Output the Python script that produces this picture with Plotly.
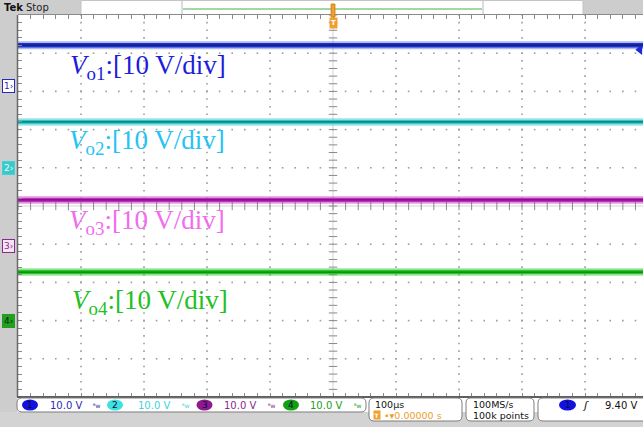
import plotly.graph_objects as go

W, H = 643, 427

# ---- acquisition settings / readings ----
time_span_us = [-500, 492]          # 100 us/div, trigger at t = 0
channels = ["1", "2", "3", "4"]
subscripts = ["o1", "o2", "o3", "o4"]
volts_per_div = [10.0, 10.0, 10.0, 10.0]
offset_div = [3.15, 1.0, -1.04, -3.0]   # ground-marker positions
dc_level_v = [10.6, 12.0, 12.0, 12.7]   # output voltages
trigger_level_v = 9.40
readouts = ["10.0 V", "10.0 V", "10.0 V", "10.0 V"]

trace_col = ["#1c34cc", "#2fc9c9", "#c52bc0", "#27c827"]
core_col = ["#0c1a78", "#0d6a6e", "#6a0f6e", "#0d7a14"]
label_col = ["#1c1cdc", "#25c4f2", "#f26cee", "#22c022"]
readout_col = ["#2a2ab4", "#3dd4dc", "#8a2a8c", "#249c24"]
oval_col = ["#1212e0", "#3ee0e0", "#8e1a90", "#12a012"]


def px(x):
    return x / W


def py(y):
    return (H - y) / H


def rrect(x0, y0, x1, y1, r):
    def p(x, y):
        return f"{px(x):.5f},{py(y):.5f}"
    return (f"M {p(x0 + r, y0)} L {p(x1 - r, y0)} Q {p(x1, y0)} {p(x1, y0 + r)} "
            f"L {p(x1, y1 - r)} Q {p(x1, y1)} {p(x1 - r, y1)} L {p(x0 + r, y1)} "
            f"Q {p(x0, y1)} {p(x0, y1 - r)} L {p(x0, y0 + r)} Q {p(x0, y0)} {p(x0 + r, y0)} Z")


fig = go.Figure()

# ---- graticule dots ----
gx, gy = [], []
for row in range(-4, 5):
    if row == 0:
        continue
    for k in range(-25, 25):
        gx.append(k * 20)
        gy.append(row)
for col in range(-4, 5):
    if col == 0:
        continue
    for k in range(-25, 26):
        gx.append(col * 100)
        gy.append(k * 0.2)
fig.add_trace(go.Scatter(x=gx, y=gy, mode="markers",
                         marker=dict(symbol="square", size=1.6, color="#9c9c9c"),
                         hoverinfo="skip"))

# centre cross with minor ticks
fig.add_trace(go.Scatter(x=[0, 0], y=[-5, 5], mode="lines",
                         line=dict(color="#d4d4d4", width=1), hoverinfo="skip"))
fig.add_trace(go.Scatter(x=[-500, 500], y=[0, 0], mode="lines",
                         line=dict(color="#d4d4d4", width=1), hoverinfo="skip"))
fig.add_trace(go.Scatter(x=[0] * 51, y=[k * 0.2 for k in range(-25, 26)], mode="markers",
                         marker=dict(symbol="line-ew", size=6, line=dict(color="#8a8a8a", width=1)),
                         hoverinfo="skip"))
fig.add_trace(go.Scatter(x=[k * 20 for k in range(-25, 25)], y=[0] * 50, mode="markers",
                         marker=dict(symbol="line-ns", size=6, line=dict(color="#8a8a8a", width=1)),
                         hoverinfo="skip"))

# ---- channel traces ----
for i in range(4):
    lvl = offset_div[i] + dc_level_v[i] / volts_per_div[i]
    ys = [lvl, lvl]
    fig.add_trace(go.Scatter(x=time_span_us, y=ys, mode="lines", opacity=0.35,
                             line=dict(color=trace_col[i], width=8), hoverinfo="skip"))
    fig.add_trace(go.Scatter(x=time_span_us, y=ys, mode="lines",
                             line=dict(color=trace_col[i], width=4.5), hoverinfo="skip"))
    fig.add_trace(go.Scatter(x=time_span_us, y=ys, mode="lines",
                             line=dict(color=core_col[i], width=1.2), hoverinfo="skip"))

# trigger level marker (channel 1)
trig_div = offset_div[0] + trigger_level_v / volts_per_div[0]
fig.add_trace(go.Scatter(x=[487], y=[trig_div], mode="markers", cliponaxis=False,
                         marker=dict(symbol="triangle-left", size=9, color="#1a2ad8"),
                         hoverinfo="skip"))

shapes = []
ann = []

# ---- frame pieces ----
shapes.append(dict(type="rect", xref="paper", yref="paper", x0=0, x1=px(17.5), y0=0, y1=1,
                   fillcolor="#cdcdcd", line=dict(width=0), layer="below"))
shapes.append(dict(type="rect", xref="paper", yref="paper", x0=0, x1=1, y0=0, y1=py(412),
                   fillcolor="#d3d3d3", line=dict(width=0), layer="below"))
shapes.append(dict(type="rect", xref="paper", yref="paper", x0=0, x1=px(81), y0=py(14.5), y1=1,
                   fillcolor="#cdcdcd", line=dict(width=0), layer="below"))
shapes.append(dict(type="rect", xref="paper", yref="paper", x0=px(583), x1=1, y0=py(14.5), y1=1,
                   fillcolor="#cdcdcd", line=dict(width=0), layer="below"))
shapes.append(dict(type="rect", xref="paper", yref="paper", x0=px(81), x1=px(583), y0=py(14.5), y1=py(0.5),
                   fillcolor="white", line=dict(color="#c4c4c4", width=1), layer="below"))
for xd in (182, 483):
    shapes.append(dict(type="line", xref="paper", yref="paper", x0=px(xd), x1=px(xd),
                       y0=py(14), y1=py(1), line=dict(color="#b8b8b8", width=1)))
shapes.append(dict(type="line", xref="paper", yref="paper", x0=px(183), x1=px(482),
                   y0=py(9), y1=py(9), line=dict(color="#47b447", width=1.2)))
# left border and bottom border of graticule
shapes.append(dict(type="line", xref="paper", yref="paper", x0=px(17.5), x1=px(17.5),
                   y0=py(397), y1=py(15), line=dict(color="#6a6a6a", width=1.5)))
shapes.append(dict(type="line", xref="paper", yref="paper", x0=px(17), x1=1,
                   y0=py(397), y1=py(397), line=dict(color="#5e5e5e", width=2)))

# trigger position marker at top
shapes.append(dict(type="rect", xref="x", yref="paper", x0=-3, x1=3, y0=py(17), y1=py(4),
                   fillcolor="#f0a030", line=dict(color="#d08010", width=1)))
ann.append(dict(x=0, xref="x", y=py(23.5), yref="paper", text="<b>T</b>", showarrow=False,
                font=dict(family="DejaVu Sans", size=7, color="white"),
                bgcolor="#f0a030", borderpad=1, xanchor="center", yanchor="middle"))

# ---- status boxes ----
shapes.append(dict(type="path", xref="paper", yref="paper", path=rrect(17, 398, 366, 412, 5),
                   fillcolor="white", line=dict(color="#7e7e7e", width=1)))
shapes.append(dict(type="path", xref="paper", yref="paper", path=rrect(369, 398, 462, 421, 5),
                   fillcolor="white", line=dict(color="#7e7e7e", width=1)))
shapes.append(dict(type="path", xref="paper", yref="paper", path=rrect(466, 398, 534, 421, 5),
                   fillcolor="white", line=dict(color="#7e7e7e", width=1)))
shapes.append(dict(type="path", xref="paper", yref="paper", path=rrect(538, 398, 660, 421, 5),
                   fillcolor="white", line=dict(color="#7e7e7e", width=1)))

sfont = "DejaVu Sans"
oval_x = [30, 115, 204.5, 291]
text_x = [48, 136, 222, 308]
bw_x = [97, 186, 272, 358]
for i in range(4):
    shapes.append(dict(type="circle", xref="paper", yref="paper",
                       x0=px(oval_x[i] - 8), x1=px(oval_x[i] + 8), y0=py(410.5), y1=py(399.5),
                       fillcolor=oval_col[i], line=dict(width=0)))
    ann.append(dict(x=px(oval_x[i]), y=py(405), xref="paper", yref="paper", text=channels[i],
                    showarrow=False, font=dict(family=sfont, size=9, color="#0a0a3a"),
                    xanchor="center", yanchor="middle"))
    ann.append(dict(x=px(text_x[i]), y=py(405), xref="paper", yref="paper", text=readouts[i],
                    showarrow=False, font=dict(family=sfont, size=10, color=readout_col[i]),
                    xanchor="left", yanchor="middle"))
    ann.append(dict(x=px(bw_x[i]), y=py(405), xref="paper", yref="paper", text="ᴮw",
                    showarrow=False, font=dict(family=sfont, size=6, color=readout_col[i]),
                    xanchor="center", yanchor="middle"))

ann.append(dict(x=px(373), y=py(404), xref="paper", yref="paper", text="100µs", showarrow=False,
                font=dict(family=sfont, size=9.5, color="#111111"), xanchor="left", yanchor="middle"))
ann.append(dict(x=px(376.5), y=py(415), xref="paper", yref="paper", text="<b>T</b>", showarrow=False,
                font=dict(family=sfont, size=6, color="white"), bgcolor="#eea22a", borderpad=0.5,
                xanchor="center", yanchor="middle"))
ann.append(dict(x=px(382), y=py(415), xref="paper", yref="paper", text="•▾0.00000 s", showarrow=False,
                font=dict(family=sfont, size=9.5, color="#e9a028"), xanchor="left", yanchor="middle"))
ann.append(dict(x=px(471), y=py(404), xref="paper", yref="paper", text="100MS/s", showarrow=False,
                font=dict(family=sfont, size=9.5, color="#111111"), xanchor="left", yanchor="middle"))
ann.append(dict(x=px(471), y=py(415), xref="paper", yref="paper", text="100k points", showarrow=False,
                font=dict(family=sfont, size=9.5, color="#111111"), xanchor="left", yanchor="middle"))
shapes.append(dict(type="circle", xref="paper", yref="paper", x0=px(559), x1=px(576),
                   y0=py(410.5), y1=py(399.5), fillcolor="#1212e0", line=dict(width=0)))
ann.append(dict(x=px(567.5), y=py(405), xref="paper", yref="paper", text="1", showarrow=False,
                font=dict(family=sfont, size=9, color="#0a0a3a"), xanchor="center", yanchor="middle"))
ann.append(dict(x=px(585), y=py(405), xref="paper", yref="paper", text="<i>ʃ</i>", showarrow=False,
                font=dict(family=sfont, size=11, color="#111111"), xanchor="center", yanchor="middle"))
ann.append(dict(x=px(639), y=py(405), xref="paper", yref="paper", text=f"{trigger_level_v:.2f} V",
                showarrow=False, font=dict(family=sfont, size=10, color="#111111"),
                xanchor="right", yanchor="middle"))

# ---- header ----
ann.append(dict(x=px(2), y=py(7.5), xref="paper", yref="paper", text="<b>Tek</b>", showarrow=False,
                font=dict(family=sfont, size=10, color="#111111"), xanchor="left", yanchor="middle"))
ann.append(dict(x=px(24), y=py(7.5), xref="paper", yref="paper", text="Stop", showarrow=False,
                font=dict(family=sfont, size=10, color="#222222"), xanchor="left", yanchor="middle"))

# ---- channel ground markers on the left ----
marker_bg = ["white", "#3cc8c8", "#f4e4f4", "#22a022"]
marker_fg = ["#2a2ab4", "#e8ffff", "#8a2a8c", "#0a2a0a"]
for i in range(4):
    ann.append(dict(x=px(8.5), xref="paper", y=offset_div[i], yref="y", text=channels[i] + "›",
                    showarrow=False, font=dict(family=sfont, size=9, color=marker_fg[i]),
                    bgcolor=marker_bg[i], bordercolor=readout_col[i], borderwidth=1, borderpad=1,
                    xanchor="center", yanchor="middle"))

# ---- channel labels ----
label_y = [67, 142, 222, 302]
label_x = [68, 67, 67, 70]
for i in range(4):
    ann.append(dict(x=px(label_x[i]), y=py(label_y[i]), xref="paper", yref="paper",
                    text=f"<i>V</i><sub>{subscripts[i]}</sub>:[10 V/div]", showarrow=False,
                    font=dict(family="Liberation Serif", size=27, color=label_col[i]),
                    xanchor="left", yanchor="middle"))

fig.update_layout(
    width=W, height=H, margin=dict(l=0, r=0, t=0, b=0),
    paper_bgcolor="white", plot_bgcolor="white", showlegend=False,
    shapes=shapes, annotations=ann, hovermode=False,
    xaxis=dict(domain=[px(18), 1], range=time_span_us, showgrid=False, zeroline=False,
               showticklabels=False, ticks="inside", ticklen=4, tickcolor="#8a8a8a",
               tickvals=[k * 20 for k in range(-25, 25)], showline=True, linecolor="#8a8a8a",
               mirror="ticks", fixedrange=True),
    yaxis=dict(domain=[py(397), py(15)], range=[-5, 5], showgrid=False, zeroline=False,
               showticklabels=False, ticks="inside", ticklen=4, tickcolor="#8a8a8a",
               tickvals=[k * 0.2 for k in range(-25, 26)], showline=False, fixedrange=True),
)

fig.write_html("out.html")
